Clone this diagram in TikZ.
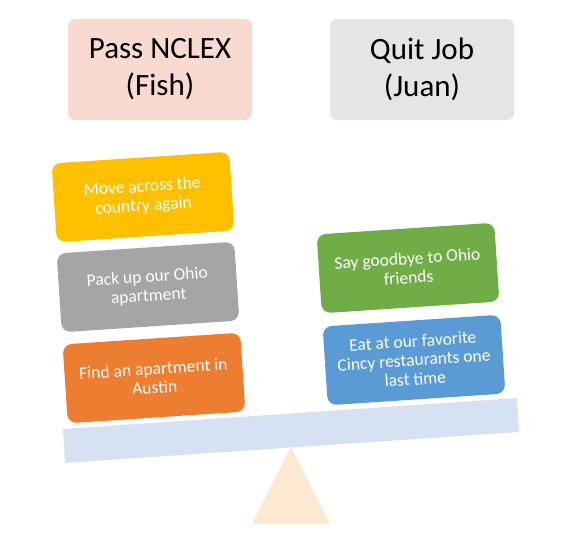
\documentclass[tikz,border=0pt]{standalone}
\usepackage{fontspec}
\setmainfont{Carlito}
\usetikzlibrary{positioning}
\definecolor{goalpink}{HTML}{F9DAD0}
\definecolor{goalgray}{HTML}{E5E5E5}
\definecolor{taskyellow}{HTML}{FFC000}
\definecolor{taskgray}{HTML}{A5A5A5}
\definecolor{taskorange}{HTML}{ED7D31}
\definecolor{taskgreen}{HTML}{70AD47}
\definecolor{taskblue}{HTML}{5B9BD5}
\definecolor{beamblue}{HTML}{D6E1F1}
\definecolor{pivotpeach}{HTML}{FDE8D2}
\begin{document}
\begin{tikzpicture}[x=1pt, y=-1pt,
    goal/.style={rounded corners=7pt, minimum width=184pt, minimum height=101pt,
      align=center, inner sep=0pt, font=\fontsize{31}{37}\selectfont},
    task/.style={rounded corners=9pt, minimum width=178pt, minimum height=79pt,
      align=center, inner sep=0pt, text=white, rotate=3.8,
      font=\fontsize{17.5}{19}\selectfont}]
    \useasboundingbox (0, 0) rectangle (586, 544);
    % goals on top
    \node[goal, fill=goalpink] (fish) at (160, 69.5) {Pass NCLEX\\(Fish)};
    \node[goal, fill=goalgray] (juan) at (422, 69.5) {Quit Job\\(Juan)};
    % pivot and beam
    \fill[pivotpeach] (252, 524) -- (291, 447) -- (330, 524) -- cycle;
    \node[fill=beamblue, minimum width=455pt, minimum height=34pt, inner sep=0pt,
      rotate=3.9] (beam) at (291, 430.5) {};
    % left pan
    \node[task, fill=taskyellow] (move) at (143, 197) {Move across the\\country again};
    \node[task, fill=taskgray] (pack) at (148, 287) {Pack up our Ohio\\apartment};
    \node[task, fill=taskorange] (find) at (154, 378) {Find an apartment in\\Austin};
    % right pan
    \node[task, fill=taskgreen] (bye) at (408, 268) {Say goodbye to Ohio\\friends};
    \node[task, fill=taskblue] (eat) at (414, 360) {Eat at our favorite\\Cincy restaurants one\\last time};
\end{tikzpicture}
\end{document}
